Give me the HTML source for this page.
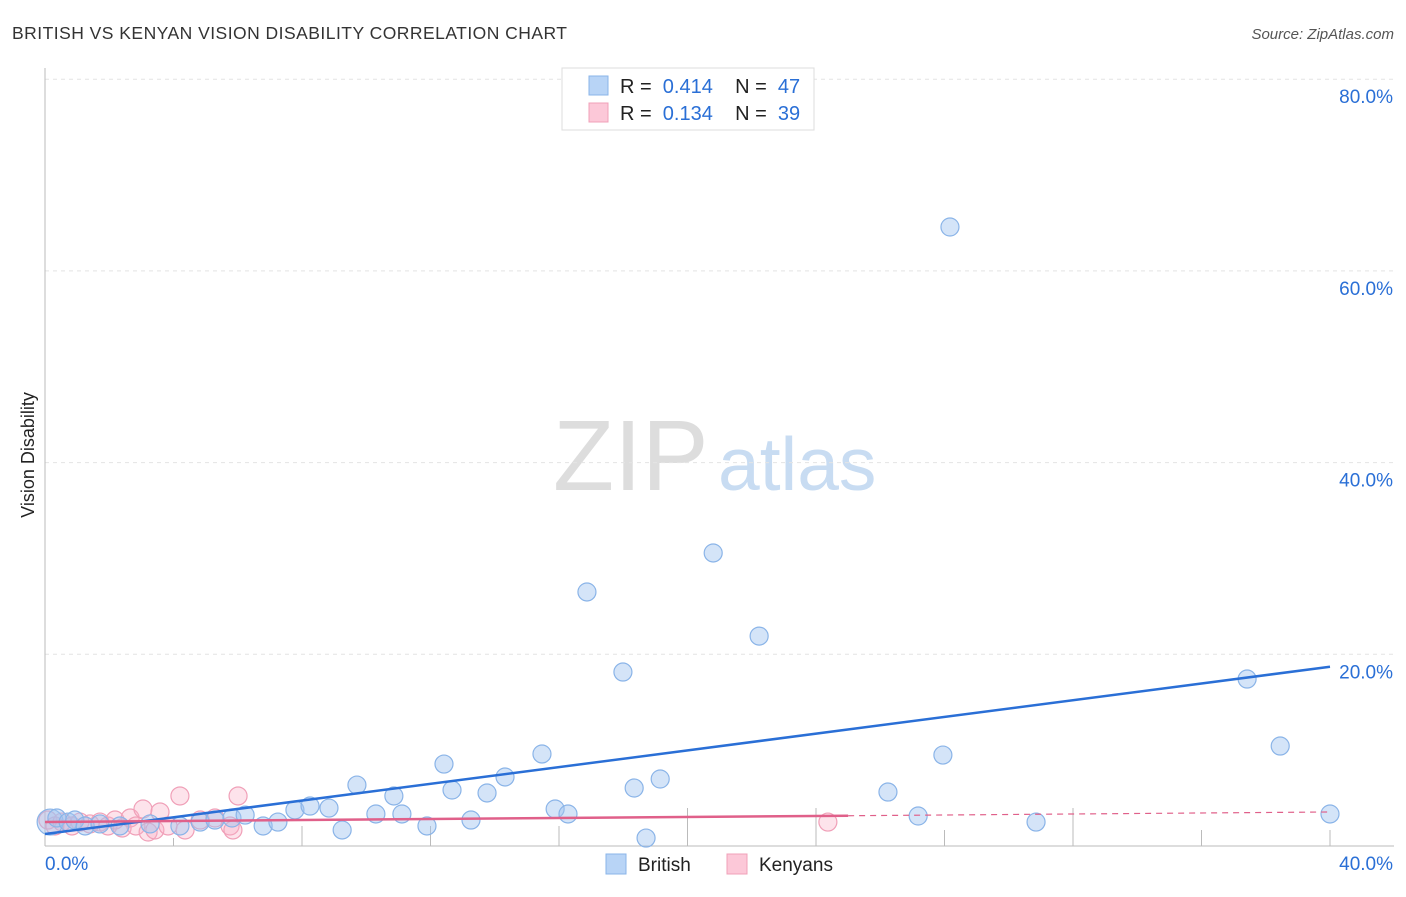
<!DOCTYPE html>
<html><head><meta charset="utf-8"><style>
body{margin:0;background:#fff;font-family:"Liberation Sans",sans-serif;}
svg text{font-family:"Liberation Sans",sans-serif;}
</style></head><body>
<svg id="c" width="1406" height="892">
<text x="12" y="39" font-size="17.5" fill="#333" textLength="555" lengthAdjust="spacing">BRITISH VS KENYAN VISION DISABILITY CORRELATION CHART</text>
<text x="1394" y="39" font-size="15" fill="#555" font-style="italic" text-anchor="end">Source: ZipAtlas.com</text>
<text x="34" y="455" font-size="18" fill="#222" transform="rotate(-90 34 455)" text-anchor="middle">Vision Disability</text>
<text x="553" y="490" font-size="100" fill="#ddd" font-family="Liberation Serif">ZIP</text>
<text x="718" y="490" font-size="75" fill="#c8dcf2">atlas</text>
<g id="grid"></g><g id="marks"></g>
<g>
<rect x="562" y="68" width="252" height="62" fill="#fff" stroke="#ddd"/>
<rect x="589" y="76" width="19" height="19" fill="#b8d4f6" stroke="#8ab4e8"/>
<rect x="589" y="103" width="19" height="19" fill="#fcc8d8" stroke="#f0a0b8"/>
<text x="620" y="93" font-size="20" fill="#222" xml:space="preserve">R =  <tspan fill="#2a6fd6">0.414</tspan>    N =  <tspan fill="#2a6fd6">47</tspan></text>
<text x="620" y="120" font-size="20" fill="#222" xml:space="preserve">R =  <tspan fill="#2a6fd6">0.134</tspan>    N =  <tspan fill="#2a6fd6">39</tspan></text>
</g>
<g>
<rect x="606" y="854" width="20" height="20" fill="#b8d4f6" stroke="#8ab4e8"/>
<text x="638" y="871" font-size="19" fill="#222">British</text>
<rect x="727" y="854" width="20" height="20" fill="#fcc8d8" stroke="#f0a0b8"/>
<text x="759" y="871" font-size="19" fill="#222">Kenyans</text>
</g>
</svg>
<script>
const yTicks=[20,40,60,80];
const yTickLabels=["20.0%","40.0%","60.0%","80.0%"];
const britishX=[0.16,0.37,0.72,0.93,1.25,1.71,2.33,3.27,4.2,4.83,5.29,5.82,6.23,6.79,7.25,7.78,8.25,8.84,9.25,9.71,10.3,10.86,11.11,11.89,12.42,12.67,13.26,13.76,14.32,15.47,15.88,16.28,16.87,17.99,18.34,18.71,19.15,20.8,22.23,26.24,27.18,27.95,28.17,30.85,37.42,38.45,40];
const britishY=[2.5,2.92,2.5,2.71,2.09,2.3,2.09,2.3,2.09,2.5,2.71,2.92,3.23,2.09,2.5,3.76,4.17,3.96,1.67,6.36,3.34,5.22,3.34,2.09,8.55,5.84,2.71,5.53,7.2,9.6,3.86,3.34,26.5,18.15,6.05,0.83,6.99,30.57,21.9,5.63,3.13,9.49,64.58,2.5,17.42,10.43,3.34];
const kenX=[0.09,0.31,0.53,0.84,1.09,1.4,1.71,1.96,2.18,2.4,2.65,2.83,3.05,3.21,3.42,3.58,3.83,4.2,4.36,4.83,5.29,5.76,5.85,6.01,24.37];
const kenY=[2.71,2.09,2.5,2.09,2.5,2.3,2.5,2.09,2.71,1.88,2.92,2.09,3.86,1.46,1.67,3.55,2.09,5.22,1.67,2.71,2.92,2.09,1.67,5.22,2.5];
const britishTrend=[1.25,18.7];
const kenTrend=[2.5,3.55];
const NS="http://www.w3.org/2000/svg";
const X=v=>45+v/40*1285, Y=v=>846-v/20*191.7;
function mk(t,a,p){const e=document.createElementNS(NS,t);for(const k in a)e.setAttribute(k,a[k]);p.appendChild(e);return e;}
const g=document.getElementById('grid'),m=document.getElementById('marks');
yTicks.forEach((t,i)=>{
 const l=mk('line',{x1:45,x2:1394,y1:Y(t),y2:Y(t),stroke:'#e4e4e4','stroke-dasharray':'4,4'},g);
 
 
 const tx=mk('text',{x:1393,y:Y(t)+24,'font-size':19,fill:'#2a6fd6','text-anchor':'end'},g);
 tx.textContent=yTickLabels[i];
 
 
});
const ax=mk('line',{x1:45,x2:1394,y1:846,y2:846,stroke:'#bbb'},g);


const ay=mk('line',{x1:45,x2:45,y1:68,y2:846,stroke:'#bbb'},g);


const tickTops=[838,826,826,826,808,808,830,808,830,830];
for(let k=1;k<=10;k++){const xx=45+128.5*k;const tk=mk('line',{x1:xx,x2:xx,y1:tickTops[k-1],y2:846,stroke:'#bbb'},g);
 
 }
const x0=mk('text',{x:45,y:870,'font-size':19,fill:'#2a6fd6'},g);x0.textContent='0.0%';


const x1=mk('text',{x:1393,y:870,'font-size':19,fill:'#2a6fd6','text-anchor':'end'},g);x1.textContent='40.0%';


kenX.forEach((v,i)=>{const c=mk('circle',{cx:X(v),cy:Y(kenY[i]),r:9,fill:'rgba(248,175,198,0.35)',stroke:'#f0a0b8','stroke-width':1.2},m);
 
 });
britishX.forEach((v,i)=>{const c=mk('circle',{cx:X(v),cy:Y(britishY[i]),r:i==0?13:9,fill:'rgba(160,196,240,0.45)',stroke:'#8ab4e8','stroke-width':1.2},m);
 
 });
const bt=mk('line',{x1:X(0),y1:Y(britishTrend[0]),x2:X(40),y2:Y(britishTrend[1]),stroke:'#2a6fd6','stroke-width':2.5},m);


const kx=25,ky=kenTrend[0]+(kenTrend[1]-kenTrend[0])*kx/40;
const kt=mk('line',{x1:X(0),y1:Y(kenTrend[0]),x2:X(kx),y2:Y(ky),stroke:'#e0608a','stroke-width':2.5},m);


const kd=mk('line',{x1:X(kx),y1:Y(ky),x2:X(40),y2:Y(kenTrend[1]),stroke:'#e0608a','stroke-width':1.2,'stroke-dasharray':'6,5'},m);


</script>
</body></html>
